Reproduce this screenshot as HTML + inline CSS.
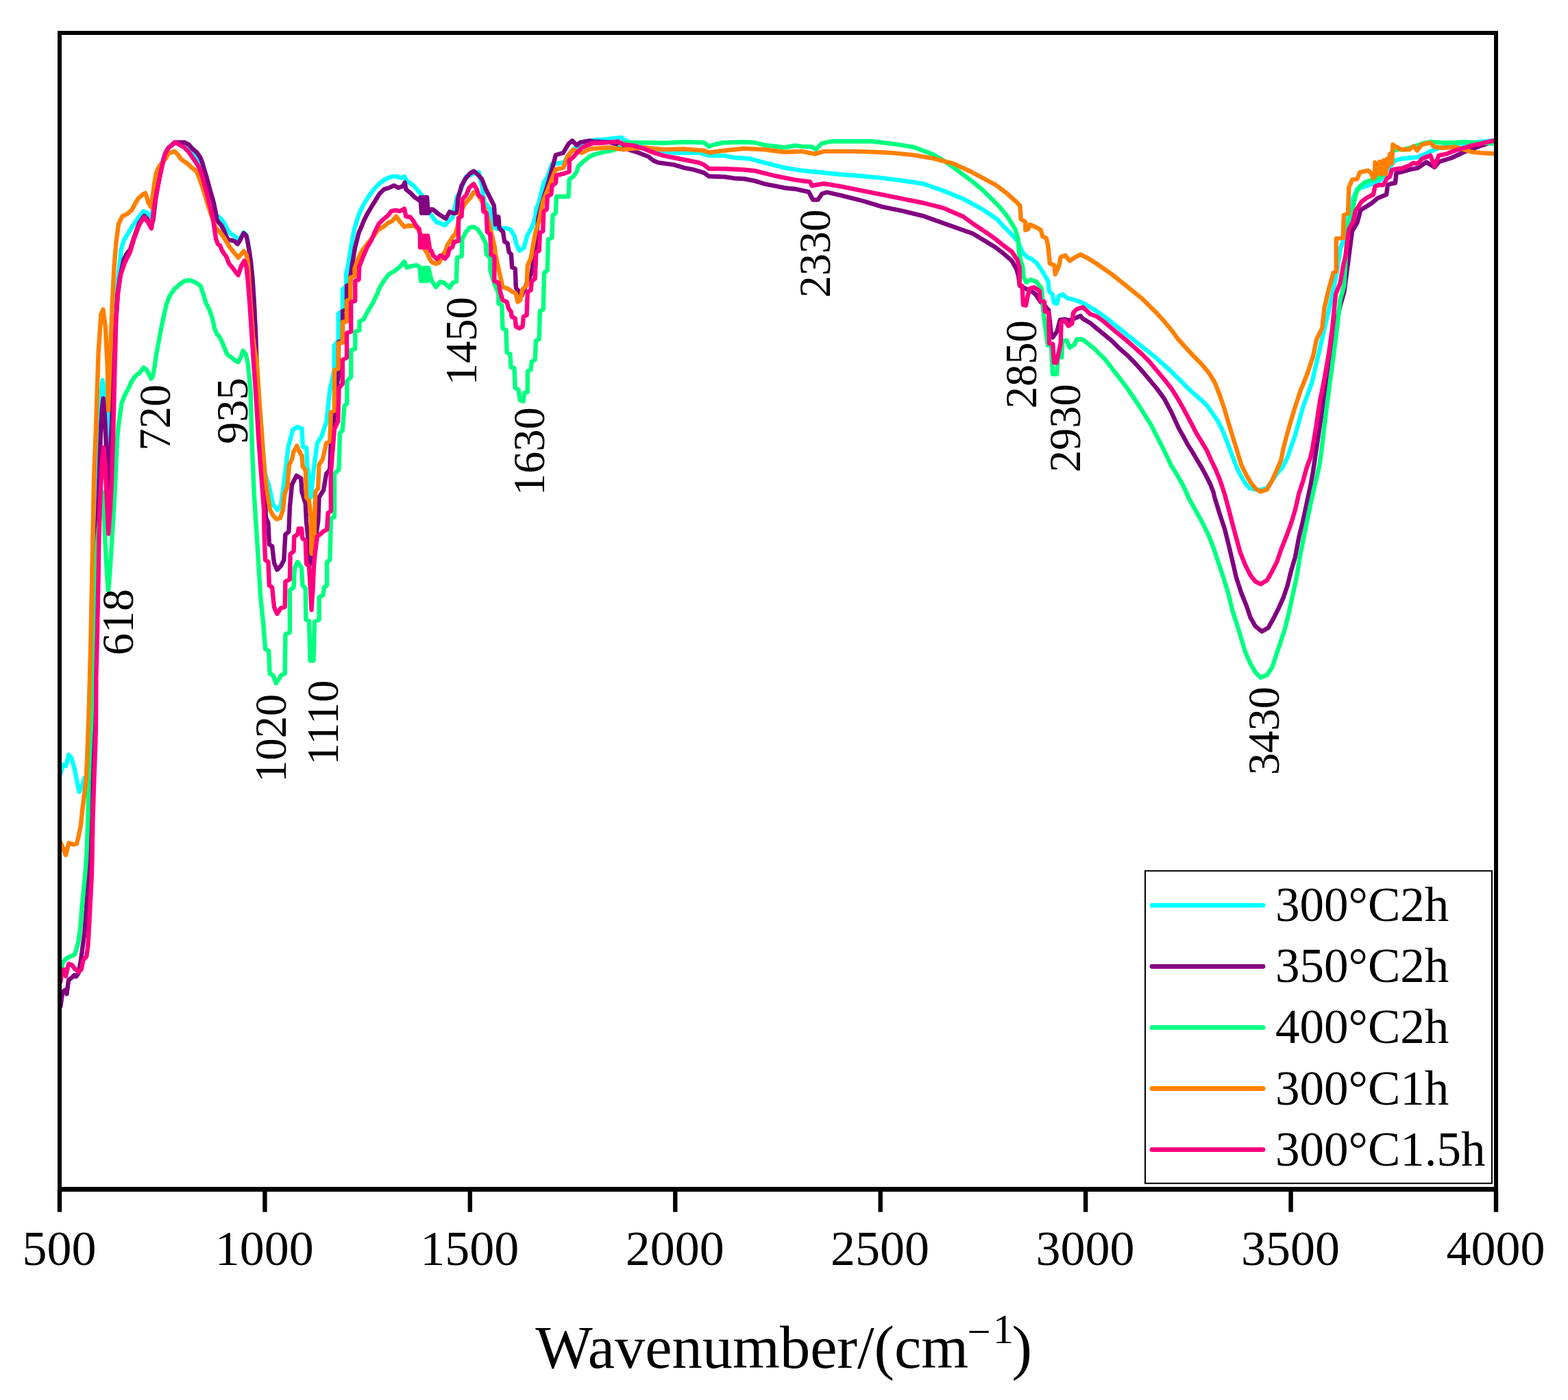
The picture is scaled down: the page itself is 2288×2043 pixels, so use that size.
<!DOCTYPE html><html><head><meta charset="utf-8"><style>html,body{margin:0;padding:0;background:#fff;}svg{display:block;}text{font-family:"Liberation Serif","Times New Roman",serif;fill:#000;}</style></head><body>
<svg width="2288" height="2043" viewBox="0 0 2288 2043">
<rect width="2288" height="2043" fill="#fff"/>
<g fill="none" stroke-width="6.4" stroke-linejoin="round" stroke-linecap="round">
<path stroke="#00FFFF" d="M87.7,1131.3 91.6,1116 96,1118 100.4,1101.6 104.2,1106 108.6,1121.4 112.5,1141.2 115.8,1155.5 120.2,1145.6 123,1135.7 125.7,1139 127.3,1106 128.6,1072 129.6,1052 131.5,988 133.3,920 135.2,835 137,760 139,700 143,680 146,610 148,570 149.6,554.8 152,570 155,610 157.5,650 158.3,665 159.5,640 160.5,600 162.5,540 165,480 168,440 172,410.8 176.7,364.1 181,350 186.1,341.7 195.4,326.7 204.8,313.6 209.4,308 215,310.8 219.7,317.4 222,312 224,300 227,285 230,268 233,254 236,243 239,231 242,222 246,215.5 250,212 255,208 260,208 265,210.5 270,213 276,217 281,221 284.3,228 289,236 293,244 296,252 299,262 302,272 305,283 308,295 311,305 314,312 318.9,316.6 322.9,319.6 327.8,326.5 331.8,335.4 336.7,341.3 341.7,344.3 346.6,348.3 350.6,348 355.5,339 359.5,343 361.5,352 364,368 366.3,385 368.5,406.9 370.7,439.9 372.9,483.8 374.5,525 378.5,586 382.4,638 386.4,688 389,700 391.7,706 395,720 398.3,736.4 404.9,744.3 410.1,736.4 415.4,696.8 420.7,651.9 427.3,626.9 433.9,622.9 440.5,625.5 441.8,651.9 447.1,653.2 448.4,681 452.3,702 453.7,725.8 457.6,686.2 462.9,646.6 469.5,636.1 476.1,616.3 481.4,568.8 486.6,545 487.6,540 487.6,504 493.7,497 493.7,458 499.9,453 499.9,422 505.1,417 505.1,400 508.5,385 511.3,365 516.8,335 524.2,311.3 530.8,298.1 537.4,287.1 544,278.4 550.5,270.7 558.2,264.1 565.9,259.7 572.5,257.5 579.1,257.5 585.7,259.7 590.1,257.5 593.4,264.1 598.9,267.4 604.4,271.8 609.9,278.4 615.4,284.9 620,298 626.4,309.1 631.9,317.9 637.4,324.5 642.9,325.6 649.5,328.9 653.8,323.4 660.4,317.9 667,287.1 671.4,279.5 680.2,257.5 686.8,255.3 693.4,252 698.8,251.5 703,270 706.5,294.4 715.3,305.4 716.4,316.4 721.9,332.9 728,334 738.4,332.9 745,335 750.4,343.8 753.7,357 758.1,365.8 764.7,361.4 769.1,343.8 775.7,332.9 781.2,316.4 782.3,305.4 786.7,294.4 793.3,266.9 798.8,258.1 805.4,239.5 823,237.3 830,225 840,215 850,210 860,206 870,204 880,203.6 906.5,200.6 912,205 930,212 950,218 983,222.7 1019.9,222.7 1034.6,227.1 1056.7,227.1 1071.4,230 1093.5,231.5 1115.5,237.4 1145,244.8 1170,248.9 1199.4,251.8 1228.9,254.8 1258.3,257 1287.8,259.9 1317.2,263.6 1346.7,268 1376.1,278.3 1405.5,290.1 1435,306.3 1455,320 1465.9,331.8 1476.5,342.3 1485.7,352.9 1492.3,368.7 1498.9,375.3 1505.5,377.9 1512.1,383.2 1518.7,392.4 1524,401 1529.2,410 1531,425 1536,430 1538,442 1542.4,443 1545,432 1551,429.5 1557,435 1568,437.5 1580,442 1600,453.8 1611,461.5 1622,470.3 1633,479.1 1644,487.9 1655,496.7 1666,505.5 1677,514.3 1688,523.1 1699,533 1710,542.9 1720,553 1731,564 1742,574.5 1753,583.7 1761.8,592.5 1769.5,603.5 1777.1,614.5 1783.7,627.7 1790.3,644.2 1796.9,661.8 1803.5,679.3 1810.1,693.6 1816.7,704.6 1823.3,712.5 1830,714 1839.5,715 1849,712 1857,700 1864,690 1871.2,682.4 1878.7,667.5 1889.7,635.5 1901.2,594.3 1914.4,558 1925.9,508.6 1937.5,459.1 1944.1,429.4 1949.8,401.4 1956,362 1962,345 1968,315 1974,290 1980.5,275.9 1995.2,271 2008.7,266.1 2016.1,261.1 2025.9,245.2 2035.7,234.2 2044.3,231.7 2056.5,230.5 2068.8,229.3 2081.1,224.3 2087.2,220.7 2100,216 2120,212 2140,209 2160,207 2182,205"/>
<path stroke="#800080" d="M88.4,1468.4 91.2,1447.8 94.6,1445 97.4,1450.5 100.1,1430 104.2,1427.2 108.4,1423.1 111.1,1425.1 114.5,1420.3 118,1401.1 120.7,1380.5 123.5,1359.9 125.5,1332.4 127.6,1304.9 129.6,1277.5 131,1250 133,1150 135,1060 137.5,960 140,860 142,780 144,720 146,660 147.5,620 149,595 150.7,581.4 152.5,600 154.5,640 155.6,680 156.5,715 157.5,725 159,700 161,660 163,620 165,560 167,520 169,470 171.5,430 175,405 180.5,379 185,370 190,364 195.4,347 202.9,326 210.4,315 215,320 220.7,331 223.5,321 227.2,290 229.9,274 232.9,259 235.8,245 238.8,231.5 241.8,222.6 245.7,215.7 249.7,212.7 254.6,208 259.6,207.8 269.5,207.8 275.4,210.8 281.3,217.7 287.3,222.6 292.2,229.6 295.2,237.5 298.1,247.4 301.1,257.3 304.1,268.1 307,279 310,288.9 312.5,298.8 314.5,308.7 316.4,320.6 318.9,324.5 322.9,328.5 326.8,336.4 330.8,346.3 333.7,350.2 338.7,350.7 342.6,352.2 346.6,356.2 350.6,350.2 355.5,340.3 359.5,344.3 361.4,353.2 364.1,368.5 366.3,385 368.5,406.9 370.7,439.9 372.9,483.8 374.5,530 376,575 380,640 384,690 386.4,720 388,755 391.4,762.9 392.9,794.3 397.1,797.1 400,821.4 404.3,831.4 410,825.7 414.3,817.1 416.4,780 421.4,775.7 422.9,740 426,707.3 432.6,694.1 439.2,698.1 440.5,717.9 445.8,735 447,761 451,800 452.9,822.9 457.1,810 460,790 464.3,760 465.5,725.8 472.1,715.2 476.1,691.5 481.4,684.9 482.7,646.6 488,605.8 490,575 492,560 494,548 494,499 500,497 500,454 506,452 506,417 511.3,415 511.3,404 513,392 517.9,362 523.4,340 527.8,330 530.8,322.3 536.3,311.3 542.9,300.3 548.4,291.5 553.8,282.7 560.4,276.2 568.1,274 574.7,270.7 581.3,274 587.9,271.8 590.7,266.3 592.3,276.2 598.9,281.6 605.5,288.2 612.1,292.6 613.5,288 615.1,311 616.7,288 618.3,311 619.9,288 621.5,311 623.1,288 624.7,311 629,305.5 631.9,305.8 638.5,311.3 645.1,315.7 650.5,319 656,309.1 662.6,311.3 667,310.2 668.1,290.4 673.6,270.7 679.1,260.8 685.7,253.1 691.2,249.8 696.7,254.2 703.2,261.4 708.7,275.7 715.3,288.9 720.8,299.9 723,327.4 727.4,316.4 728.5,332.9 734,338.4 736.2,352.6 740.5,354.8 742.7,368 746,371.3 747.1,390 751.7,392.1 752.9,419.9 757.7,425.9 761,432 764,425 770,410 775.8,398 781,360 785.6,317.5 790,300 793.3,288.9 799.9,266.9 805.4,247.1 810.9,226.3 821.9,223 829.6,209.8 835.1,205.4 841.6,212 847.1,207.6 860.3,205.4 865.8,206.5 890,207.6 905,212 916.8,218.3 931.5,222.7 946.2,228.6 953.6,234.5 961,237.4 983,240.4 997.8,244.8 1012.5,247.7 1027.2,252.1 1034.6,257.3 1056.7,258 1071.4,260.2 1086.1,261 1100.8,263.9 1115.5,268.3 1145,274.2 1159.7,275.7 1180,280 1186.2,291.6 1193.6,291.6 1199.4,282.7 1206.8,280.5 1228.9,285.7 1258.3,293 1287.8,301.9 1317.2,307.8 1346.7,315.1 1376.1,325.4 1400,334 1419.8,341 1439.6,353 1452.7,361 1465.9,371.3 1476.5,380.6 1483.1,392.4 1486,402 1488,417 1494,420 1505.5,425.4 1510.8,429 1518,440 1525,447 1530.1,452.7 1532,470 1534,490 1536.2,492.3 1542.4,483.5 1546.8,466.8 1554.7,465.9 1560,468 1571.4,463.3 1576.7,461 1580,465 1591,471.5 1600,479 1611,488 1622,497 1633,508 1644,517.6 1655,528.6 1666,540.7 1677,553.8 1688,567 1699,582 1710,603 1720,625 1726.6,636.5 1733,648.6 1740,659.6 1746.4,670.5 1753,681.5 1759.6,693.6 1766.2,706.8 1770.5,718 1772.2,725.4 1779.7,749.7 1787.1,772.1 1792.7,794.5 1798.4,818.8 1804,843.1 1811.4,865.5 1818.9,884.2 1824.5,901 1832,914.1 1841.3,921.5 1850.7,915.9 1858.1,902.9 1865.6,887.9 1873.1,871.1 1878.7,854.3 1884.3,831.9 1889.9,813.2 1895.5,783.3 1901.1,760.9 1906.7,734.7 1912.3,708.6 1916,688 1919.8,662 1926,620 1931,589 1937,550 1943,510 1949,475 1955.6,446 1961.4,426 1967.1,383 1973.1,337.2 1980.5,324.9 1985.4,306.5 2001.3,296.7 2009.9,289.4 2018,286 2023,284 2025,270 2030,268 2036,267 2037.5,252 2045,251 2056.5,247.7 2068.8,245.2 2081.1,236.6 2093.3,244 2100,236 2117.9,230.5 2136,222 2160,213 2182,206"/>
<path stroke="#00FF80" d="M87.7,1420.3 91.9,1403.8 97.4,1398.4 102.9,1395.6 109,1392.9 111.8,1384.6 114.5,1373.6 117.3,1353 119.3,1325.5 122.1,1298.1 124.1,1277.5 126.2,1250 128.4,1192.9 129.5,1137.9 131.2,1094 133.4,1050 135,990 136.5,930 138,880 140,820 143,780 146,750 149,725 150.7,718 151.8,740 153,780 155,820 156.5,845 158,862 160,840 162.6,800 165,760 167,728 171,640 173,620 175.9,600 177.6,587.9 180.9,579.7 184.7,571.4 189.1,563.2 193,554.9 198.5,547.8 204,544 209.5,536.3 213.8,539.6 217.7,546.7 220.4,552.7 223.2,548.4 225.9,533 228.1,516.5 230.9,502 235,480 238.8,462 242.8,444.4 247.7,431.5 254.7,421.7 262.6,414.7 269.5,409.8 276.4,408.8 284.3,411.8 292.3,416.7 296.2,427.6 300.2,441.4 306.1,453.3 310.1,465.2 313,479 316,486.9 320,490.9 323.9,498.8 327.9,508.7 331.8,517.6 337.8,521.6 343.7,526.5 347.6,528.5 351.6,520.6 354.6,511.7 358.5,516.6 361.5,528.5 363.5,548.3 365.5,570 367.9,651.9 370.6,717.9 373.2,760 375.7,797 380,868.6 384.3,911.4 387.1,947.1 392.1,950 393.6,982.9 398.6,985.7 402.9,997.1 410,985.7 415.7,982.9 416.4,925.7 422.9,922.9 422.9,861.4 428.6,857.1 430,828.6 434.3,820 440,828.6 441.4,854.3 445.7,858.6 446.4,904.3 451,906 452.5,964 457.5,964 459,907.1 465.7,904.3 465.7,871.4 471.4,868.6 472.9,857.1 477.1,854.3 477.1,820 481.4,817.1 482.9,757.1 488,754.3 488,691.5 494.6,684.9 495.9,632.1 499.8,628.2 502.5,592.6 506.4,588.6 506.4,556 512.2,550 512.2,511 518.3,509 518.3,484 524.5,482 524.5,469 530.6,466 536.8,454 543,444 549,432 554.4,419 561.4,408 566.7,401 569.2,399.2 576.9,394.8 583.5,389.3 590.1,381.6 593.4,390.4 601.1,388.2 607.7,387.1 611.8,389.2 612.5,391 614.1,410 615.7,391 617.3,410 618.9,391 620.5,410 622.1,391 623.7,410 625.3,391 629.5,409 636,419 642.7,411 649.3,413.6 656,420 661,412.3 665.8,411 667,376 673.7,374 674.4,349.7 679,339.8 685.6,331.9 691.2,331.1 696.6,334 703.2,343.8 708.7,354.8 709.8,371.3 715.3,376.8 715.4,394.5 721.4,413.9 727.5,428.4 727.5,442.9 732.3,445.3 733.5,479.1 738.4,481.6 739.6,514.2 744.4,516.6 745.6,536 750.5,537.2 751.7,566.2 756.5,568.6 758.9,584.3 763.8,585.5 765,573.4 769.8,572.2 769.8,542 774.6,539.6 775.8,527.5 780.7,525.1 781.9,497.3 786.7,494.9 787.9,453.8 792.8,451.3 794,398.1 798.8,394.5 799.9,349.3 805.4,347.1 806.5,314.2 810.9,310.9 812,286.7 829.6,286.7 830.7,261.4 836.2,258.1 841.6,250.4 843.8,242.7 849.3,237.3 854.8,232.9 860.3,228.5 868,225.2 876.8,223 885,221 895,219 903,216 907,210 909.4,208 938.9,208 968.3,208.7 997.8,207.2 1027.2,208 1034.6,213.9 1041.9,210.9 1056.7,208 1086.1,207.2 1100.8,208 1115.5,211.6 1145,215.3 1159.7,212.4 1170,213.6 1184.7,214.3 1190.6,218 1199.4,209.1 1214.2,206.2 1243.6,206.2 1273,206.2 1302.5,209.9 1331.9,214.3 1361.4,225.3 1383.5,238.6 1405.5,254.8 1420.3,266 1433,276.4 1446.2,289.6 1459.3,302.7 1469.9,315.9 1476.5,326.5 1481.8,335.7 1485.7,348.9 1487,368.7 1489.7,381.9 1492.3,388.5 1493.6,404.3 1497.6,412 1504.2,408.2 1512.1,411 1516,416 1520,421 1523,461 1529,504 1534,504 1536,546 1542,546 1544,521 1549.4,521.3 1550.3,496.7 1556.4,496.7 1560.8,507.2 1567.9,502.8 1571.4,494.9 1580,495.6 1596.5,508.6 1613,525.1 1629.5,546.5 1645.9,567.9 1662.4,592.6 1678.9,619 1697.5,655 1708.7,678.7 1718,693.6 1727.4,710.4 1734.8,727.3 1744.2,744.1 1753.5,760.9 1762.9,779.6 1770.3,798.2 1777.8,820.7 1785.3,843.1 1792.7,867.4 1798.4,891.6 1805.8,914.1 1811.4,932.7 1817,951.4 1824.5,968.2 1832,981.3 1839.5,988.8 1848.8,985 1856.3,973.8 1861.9,957 1867.5,940.2 1874.9,917.8 1880.5,895.4 1886.1,869.2 1891.8,843.1 1897.4,809.5 1903,781.4 1908.6,753.4 1914.2,727.3 1919.8,703 1925.4,678.7 1928,660 1930.9,635.5 1935.8,594.3 1942.4,544.8 1949,495.4 1955.6,437.7 1961.4,416.3 1964,370 1966,330 1970,320 1975,300 1978,285 1981,277 1984.2,272.2 1991.5,266.1 1998.9,263.6 2007.5,261.1 2013.6,257.5 2018,257 2020,245 2024,238 2028,232 2032,220 2040,218 2048,218.2 2062.7,214.5 2074.9,209.6 2087.2,207.2 2111.7,208.4 2136.3,207.2 2160.8,208.4 2182,209.6"/>
<path stroke="#FF8000" d="M87.7,1228 91.6,1236.8 96,1247.8 100.4,1230.2 107,1232.4 112,1231.3 114.7,1220.3 118,1203.8 120.2,1181.9 122.9,1159.9 125.7,1137.9 127.3,1104.9 128.4,1072 129.2,1055 131,988.4 132.7,920.3 134.4,835.1 136.1,750 137,700 139.9,627 143.6,514.8 147.4,458.7 150.4,451.5 153.9,477.4 156.7,533.5 158.1,598.5 160.8,523 163.6,448.2 166.4,392.1 169.3,354.8 173,326.7 178.6,315.5 186.1,311.8 192.6,306.2 197.3,296.8 202,289.3 208.5,283.7 212.2,281.9 216.9,296.8 220.7,302.4 223,284 225,269.1 227.9,252 232,243 236,238 241.8,231.5 245.7,223.6 249.7,222.6 254.6,220.7 259.6,225.6 263.5,231.5 268.5,235.5 273.4,238.5 277.4,242.4 282.3,246.4 287.3,251.3 291.2,261.2 295,272 299,284 303,298 307,310 311,322 315,333.4 318.9,336.4 323.9,342.3 330,352 335.5,361 341,368 347.6,376 352,370.7 355.8,366.3 359.7,371.8 361.9,384.9 364,420 366.5,455 369,490 371.5,510 374.5,525 378.5,586 382.4,638.7 386.4,691.5 389,711.3 391.7,731.1 394.3,744.3 398.3,752.2 403.5,757.5 408.8,756.2 412.8,744.3 415.4,720.5 419.4,710 422,678.3 426,670.4 428.6,658.5 433.2,650.6 436.5,658.5 440.5,665.1 441.8,681 445.8,686.2 447.1,725.8 451,731.1 453.7,754.8 454.5,808 458.5,808 459,760 460.3,717.9 464.2,712.6 465.5,678.3 470.8,670.4 476.1,646.6 481.4,644 482.7,601.8 488,599.2 488,560 488,540 493.7,538 493.7,501 499.9,500 499.9,470 506,469 506,439 511.3,437 511.3,405 517.5,403 517.5,392 522.3,378 527.8,367 536.3,355.3 545,345 552,335 559.3,331.1 565.9,325.6 572.5,322.3 578,315.7 583.5,323.4 590.1,331.1 596.7,328.9 598,330 604,329 609,333 613,340 615,352 618,361 623,369 627,378 631,383 636,385 641,383 646,372 650,366 653,357 658,350 661,345 664,342 667,333 672,310 677,300 681.3,293.7 686.8,288.2 691.2,280.5 696,283 698,285 704,295 710,312 715.3,332.9 721.9,360.3 723,371.3 727.5,392.1 733.5,418.7 740.8,421.1 748,425.9 752.9,428.4 755.3,440.5 759,438 762.5,422.3 768.6,416.3 769.8,387.3 774.6,376.8 781.2,339.5 786.7,321.9 792.2,294.4 798.8,277.9 805,262 810.9,247.1 821.9,244.9 828.5,227.4 836.2,218.6 849.3,223 860.3,217.5 871.3,216.4 890,215.3 909.4,218.3 938.9,215.3 968.3,218.3 997.8,217.5 1027.2,219.7 1034.6,222.7 1056.7,219.7 1086.1,216.8 1115.5,218.3 1145,222 1170,220.9 1189.1,224.6 1202.4,220.9 1243.6,220.9 1273,221.7 1302.5,223.1 1331.9,226.1 1361.4,231.2 1390.8,238.6 1415.8,250 1433,259.2 1452.7,269.8 1468.6,281.6 1481.8,293.5 1488.4,300.1 1489.7,319.9 1496.3,323.8 1496.3,335.7 1500.2,334.4 1502.9,327.8 1512.1,331.8 1518.7,335.7 1521.3,345 1526.6,347.6 1529.2,358.1 1531.9,384.5 1538.5,387.2 1539.8,400.3 1545.1,388.5 1547.7,375.3 1554.3,372.6 1560.9,380.6 1568.8,375.3 1576.7,371.3 1584.6,375.3 1597.8,383.2 1611,392.4 1624.2,401.7 1644,417.6 1655,426.4 1666,435.2 1677,446.2 1688,457.1 1699,469.2 1710,482.4 1718.7,494.5 1730,507 1742,520 1753,531 1764,544.2 1772.7,558.5 1779.3,575 1786,594.7 1792.5,616.7 1799.1,638.7 1805.7,659.6 1811.2,678.2 1818.9,693.6 1825.5,704.6 1832,713 1839.5,717.5 1848.8,714.2 1856.3,701.1 1863.7,684.3 1869.3,671.2 1873.2,652 1879.8,627.2 1889.7,594.3 1897.9,569.6 1907.8,544.8 1916,520.1 1921,495.4 1929.2,478.9 1932.5,449.2 1939.1,421.2 1945.7,398 1949.8,396.1 1949.8,348.2 1959.6,347 1960.9,313.9 1967,311.4 1968.2,273.4 1973.1,262.4 1980.5,261.1 1984.2,251.3 1996.4,248.9 2000,252 2003.8,260 2006,258 2006.5,237 2010,254 2013,236 2016,254 2019,234 2022,254 2024,232 2026,242 2028,225 2031,238 2032.5,211 2036,214 2038.1,214.5 2044.3,218.2 2056.5,218.2 2062.7,213.3 2067.6,219.4 2074.9,210.9 2087.2,208.4 2093.3,214.5 2105.6,215.8 2124,214.5 2136.3,218.2 2148.5,221.9 2160.8,223.1 2182,224.3"/>
<path stroke="#FF0080" d="M88.4,1432.7 90.5,1416.2 93.9,1414.8 96,1424.5 100.1,1406.6 104.9,1408 109,1413.5 114.5,1418.3 118.7,1414.8 121.4,1401.1 126.2,1395.6 128.3,1380.5 129.6,1359.9 131.7,1318.7 133.8,1277.5 134.5,1250 135.5,1192.9 137.7,1126.9 139.4,1083 140,1050 140.3,988.4 142,920.3 143.7,835 144.2,800 145.4,750 147,710 149,675 151.2,653.2 153.5,680 155.5,720 157,755 158.2,778.9 161,740 163,700 165,640 166.5,580 167.4,541.7 169.3,467 172,429.5 175.8,401.5 182.3,382.8 189.8,367.9 195.4,349.2 202.9,328.6 207,322 210.4,317.4 215,323 221,333.4 224,308.7 226.9,288.9 229.9,274 232.9,259.2 235.8,245.4 238.8,231.5 241.8,222.6 245.7,215.7 249.7,212.7 254.6,207.8 259.6,209.8 264.5,212.7 269.5,215.7 275.4,221.7 279.3,227.6 284.3,234.5 289.2,242.4 293.2,251.3 296.2,261.2 299.1,272.1 302.1,283 305.1,295.8 308,306.7 311,320.6 313,334.4 315,348.3 317.9,356.2 320.9,358.2 323.9,365.1 326.8,370 330,374 334.4,385 339.9,391.5 343.2,395.9 347.6,401.4 352,388.2 356.4,380.5 359.7,390.4 361.9,412.4 364.1,439.9 366.3,472.9 368.5,505.8 370.1,530 373.2,572.8 377.2,638.7 381.1,691.5 385.1,744.3 385.7,782.9 387.1,817.1 391.4,820 392.9,854.3 397.1,857.1 400,885.7 404.3,895.7 410,887.1 415.7,885.7 416.4,848.6 422.9,845.7 423.6,808.6 428.6,804.3 429.3,782.9 434.3,780 435.7,771.4 440,771.4 441.4,785.7 445.7,788.6 447.1,822.9 451,826 453,860 454.5,890 456.5,860 458,826 460,805 462.9,782.9 468.6,778.6 471.4,775.7 477.1,772.9 478.6,748.6 482.9,745.7 482.7,691.5 488,625.5 493.2,615 494.6,566.2 499.9,560 499.9,525 506,522 506,486 512.2,484 512.2,441 518.3,439 518.3,410 523.6,408 524.2,389.3 529.7,375.1 535.2,361.9 541.8,350.9 546.2,339.9 552.7,326.7 559.3,320.1 565.9,314.6 571.4,308 576.9,306.9 583.5,308 590.1,304.7 592.3,315.7 598.9,317 603,322 606.5,328.6 611.8,334.5 613,344 613,361 614.6,344 616.2,361 617.8,344 619.4,361 621,344 622.6,361 624.2,344 627,363 628,366 629.5,366 632,372.7 637.5,378 642.7,372.7 649.3,377.4 653.3,372.7 656,362.8 660,360.9 662.5,353 669,351.6 669,318 673.6,315.7 674.7,290.4 680.2,284.9 684.6,274 691.2,268.5 695.6,276.2 698.8,285.6 704.3,288.9 705.4,308.7 709.8,310.9 710.9,338.4 715.3,341.6 716.4,371.3 721.4,374.6 721.4,410.2 727.5,412.6 729.9,425.9 733.5,438 739.6,440.5 742,450.1 745.6,455 746.8,462.2 751.7,464.6 752.9,476.7 757.7,479.1 762.5,476.7 763.8,462.2 768.6,459.8 769.8,425.9 774.6,423.5 775.8,410.2 780.7,406.6 781.9,380 782.3,368 786.7,365.8 787.8,339.5 792.2,337.3 793.3,308.7 797.7,305.4 798.8,286.7 804.3,283.4 805.4,271.3 810.9,266.9 812,255.9 821.9,253.7 830.7,250.4 830.7,234 837.3,228.5 843.8,220.8 849.3,215.3 857,212 865.8,208.7 876.8,208.7 890,207.6 902.1,206.5 909.4,210.9 924.2,212.4 938.9,216.8 953.6,222.7 968.3,227.1 983,230 997.8,233 1019.9,237.4 1027.2,240.4 1034.6,246.2 1056.7,246.2 1086.1,247.7 1100.8,249.2 1130.3,256.5 1159.7,262.4 1175,264.5 1181.8,265.1 1184.7,271 1202.4,268 1228.9,272.4 1258.3,278.3 1287.8,284.2 1317.2,290.1 1346.7,296 1376.1,303.4 1405.5,316 1419.8,326.5 1439.6,339.7 1452.7,348.9 1465.9,359.5 1476.5,367.4 1484.4,379.2 1487.5,390 1487.9,415.8 1491.5,417 1493,445 1497,445.7 1500,430 1502.8,421.1 1509,419.3 1516.9,424.6 1517.8,438.7 1523.9,440.4 1524.8,454.5 1530.1,456.2 1531,501.1 1536.2,501.9 1538,529 1541.5,529.2 1547.7,501.1 1548.5,470.3 1553.8,467.7 1559.1,475.6 1564.4,472.1 1566.1,456.2 1571.4,451 1580,448.3 1591.2,458.4 1600,461.5 1611,469.5 1622,479 1633,488 1644,497 1655,506.6 1666,516.5 1677,527.5 1688,540.7 1699,553.8 1710,568 1720,584 1731,604 1739,619 1745,631 1753,644 1761,657.4 1767.3,671.6 1773.8,685 1780.4,701.3 1786,718 1787.1,721.6 1792.7,742.2 1798.4,764.6 1804,785.2 1809.6,805.7 1817,824.4 1824.5,839.3 1832,848.7 1839.5,852.4 1848.8,846.8 1856.3,833.7 1863.7,818.8 1869.3,802 1876.8,783.3 1884.3,762.7 1889.9,744.1 1895.5,719.8 1901.1,703 1906.7,682.4 1912.3,667.5 1915,655 1921,619 1925.9,586 1932.5,553.1 1939.1,515.2 1944.1,478.9 1949,429.4 1955.6,413 1960.5,385 1963.3,374 1968.2,334.8 1974.3,323.7 1978,307.8 1982.9,300.4 1986.6,294.3 1995.2,288.1 2003.8,284 2006.5,272 2012,270 2018,270 2021,266 2024,260 2028,258 2031,248 2036,247 2040,246 2045,246 2056.5,241.5 2062.7,237.8 2068.8,239.1 2074.9,231.7 2087.2,226.8 2093.3,242.7 2099.5,226.8 2111.7,224.3 2124,219.4 2136.3,215.8 2148.5,212.1 2160.8,209.6 2182,204.7"/>
</g>
<g fill="#000">
<rect x="84" y="45" width="2102" height="6"/>
<rect x="84" y="1732" width="2102" height="7"/>
<rect x="84" y="45" width="6" height="1694"/>
<rect x="2180" y="45" width="6" height="1694"/>
<rect x="83.80" y="1736" width="6.4" height="32.6"/>
<rect x="383.23" y="1736" width="6.4" height="32.6"/>
<rect x="682.66" y="1736" width="6.4" height="32.6"/>
<rect x="982.09" y="1736" width="6.4" height="32.6"/>
<rect x="1281.51" y="1736" width="6.4" height="32.6"/>
<rect x="1580.94" y="1736" width="6.4" height="32.6"/>
<rect x="1880.37" y="1736" width="6.4" height="32.6"/>
<rect x="2179.80" y="1736" width="6.4" height="32.6"/>
</g>
<text x="86.40" y="1846" font-size="72" text-anchor="middle">500</text>
<text x="385.83" y="1846" font-size="72" text-anchor="middle">1000</text>
<text x="685.26" y="1846" font-size="72" text-anchor="middle">1500</text>
<text x="984.69" y="1846" font-size="72" text-anchor="middle">2000</text>
<text x="1284.11" y="1846" font-size="72" text-anchor="middle">2500</text>
<text x="1583.54" y="1846" font-size="72" text-anchor="middle">3000</text>
<text x="1882.97" y="1846" font-size="72" text-anchor="middle">3500</text>
<text x="2182.40" y="1846" font-size="72" text-anchor="middle">4000</text>
<text x="781.3" y="1995.5" font-size="88.5">Wavenumber/(cm</text>
<text x="1411.4" y="1964" font-size="60.7">&#8722;</text>
<text x="1448.7" y="1960" font-size="60.7">1</text>
<text x="1476.4" y="1995.5" font-size="88.5">)</text>
<text transform="translate(194.4,956.2) rotate(-90)" font-size="64.5">618</text>
<text transform="translate(248.3,657.7) rotate(-90)" font-size="64.5">720</text>
<text transform="translate(361.4,647.9) rotate(-90)" font-size="64.5">935</text>
<text transform="translate(417.4,1141.7) rotate(-90)" font-size="64.5">1020</text>
<text transform="translate(493.1,1116.6) rotate(-90)" font-size="64.5">1110</text>
<text transform="translate(694.7,562.3) rotate(-90)" font-size="64.5">1450</text>
<text transform="translate(794.0,723.3) rotate(-90)" font-size="64.5">1630</text>
<text transform="translate(1211.3,434.5) rotate(-90)" font-size="64.5">2330</text>
<text transform="translate(1512.3,596.2) rotate(-90)" font-size="64.5">2850</text>
<text transform="translate(1575.7,689.3) rotate(-90)" font-size="64.5">2930</text>
<text transform="translate(1866.3,1131.0) rotate(-90)" font-size="64.5">3430</text>
<rect x="1671" y="1270.8" width="506" height="456" fill="none" stroke="#000" stroke-width="2"/>
<line x1="1681" y1="1321.2" x2="1843" y2="1321.2" stroke="#00FFFF" stroke-width="6.8" stroke-linecap="round"/>
<text x="1861" y="1344.2" font-size="71">300°C2h</text>
<line x1="1681" y1="1410.3" x2="1843" y2="1410.3" stroke="#800080" stroke-width="6.8" stroke-linecap="round"/>
<text x="1861" y="1433.3" font-size="71">350°C2h</text>
<line x1="1681" y1="1499.4" x2="1843" y2="1499.4" stroke="#00FF80" stroke-width="6.8" stroke-linecap="round"/>
<text x="1861" y="1522.4" font-size="71">400°C2h</text>
<line x1="1681" y1="1588.5" x2="1843" y2="1588.5" stroke="#FF8000" stroke-width="6.8" stroke-linecap="round"/>
<text x="1861" y="1611.5" font-size="71">300°C1h</text>
<line x1="1681" y1="1677.6" x2="1843" y2="1677.6" stroke="#FF0080" stroke-width="6.8" stroke-linecap="round"/>
<text x="1861" y="1700.6" font-size="71">300°C1.5h</text>
</svg></body></html>
